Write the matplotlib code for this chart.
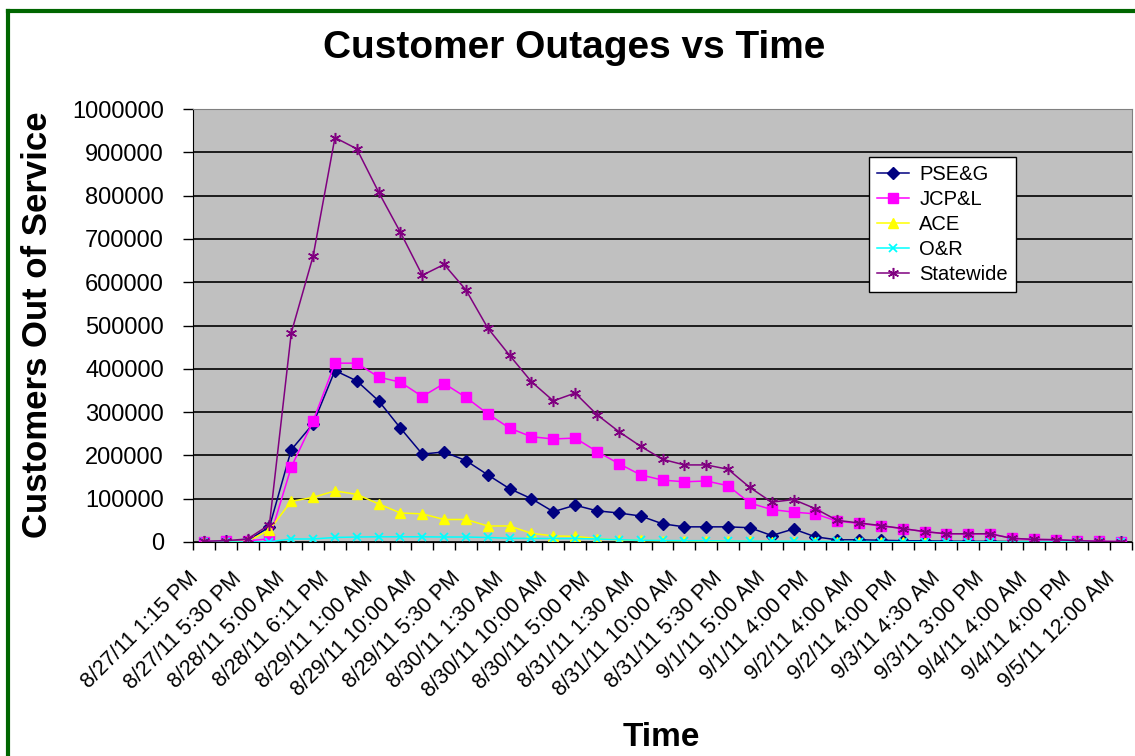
import matplotlib.pyplot as plt
import matplotlib.transforms as mtransforms
from matplotlib.lines import Line2D
from matplotlib.ticker import FuncFormatter
import numpy as np

plt.rcParams['font.family'] = ['Liberation Sans', 'DejaVu Sans']

# tick labels (shown on every other reading)
tick_labels = ["8/27/11 1:15 PM", "8/27/11 5:30 PM", "8/28/11 5:00 AM", "8/28/11 6:11 PM",
               "8/29/11 1:00 AM", "8/29/11 10:00 AM", "8/29/11 5:30 PM", "8/30/11 1:30 AM",
               "8/30/11 10:00 AM", "8/30/11 5:00 PM", "8/31/11 1:30 AM", "8/31/11 10:00 AM",
               "8/31/11 5:30 PM", "9/1/11 5:00 AM", "9/1/11 4:00 PM", "9/2/11 4:00 AM",
               "9/2/11 4:00 PM", "9/3/11 4:30 AM", "9/3/11 3:00 PM", "9/4/11 4:00 AM",
               "9/4/11 4:00 PM", "9/5/11 12:00 AM"]

pseg = [500, 1500, 3000, 35000, 213000, 273000, 396000, 372000, 326000, 263000,
        203000, 208000, 188000, 155000, 123000, 100000, 70000, 85000, 72000, 67000,
        60000, 42000, 35000, 35000, 35000, 33000, 15000, 30000, 12000, 5000,
        5000, 4000, 3000, 2500, 2000, 1500, 1500, 1000, 1000, 800,
        600, 400, 300]
jcpl = [1000, 1500, 2500, 7500, 173000, 279000, 413000, 413000, 381000, 369000,
        336000, 366000, 334000, 296000, 263000, 243000, 238000, 240000, 209000, 181000,
        155000, 143000, 139000, 141000, 130000, 90000, 75000, 69000, 65000, 48000,
        43000, 37000, 31000, 24000, 19000, 19000, 19000, 8500, 6000, 5300,
        3000, 1500, 1000]
ace = [0, 500, 1500, 28000, 94000, 103000, 118000, 110000, 88000, 67000,
       65000, 52000, 52000, 37000, 37000, 20000, 14000, 13000, 8000, 5000,
       3500, 3000, 2500, 2000, 1500, 1200, 1000, 900, 800, 700,
       600, 500, 400, 400, 300, 300, 300, 200, 200, 200,
       200, 200, 200]
onr = [0, 0, 200, 500, 7000, 7000, 10500, 11500, 12000, 12000,
       12000, 11500, 11500, 10500, 8500, 8300, 8000, 8000, 7000, 5300,
       4000, 3500, 3000, 3000, 2500, 2000, 2000, 1800, 1500, 1200,
       1000, 900, 800, 700, 600, 500, 400, 300, 300, 200,
       200, 100, 100]
statewide = [1500, 3000, 7000, 40000, 483000, 660000, 934000, 908000, 808000, 715000,
             616000, 641000, 582000, 494000, 431000, 370000, 326000, 344000, 294000, 255000,
             221000, 191000, 178000, 178000, 168000, 126000, 92000, 98000, 77000, 50000,
             44000, 38000, 31000, 24000, 19000, 19000, 19000, 8500, 6000, 5300,
             3000, 1500, 1000]

W, H = 1135, 756
fig = plt.figure(figsize=(W / 100, H / 100), dpi=100)
fig.patch.set_facecolor('white')
ax = fig.add_axes([193 / W, 1 - 542 / H, 939 / W, 433 / H])
ax.set_facecolor('#C0C0C0')

x = np.arange(len(statewide))
ax.plot(x, pseg, color='#000080', marker='D', ms=6, lw=1.1, label='PSE&G')
ax.plot(x, jcpl, color='#FF00FF', marker='s', ms=7, lw=1.1, label='JCP&L')
ax.plot(x, ace, color='#FFFF00', marker='^', ms=7.5, lw=1.1, label='ACE')
ax.plot(x, onr, color='#00FFFF', marker='x', ms=6, mew=1.3, lw=1.1, label='O&R')
ax.plot(x, statewide, color='#800080', marker=(6, 2, 0), ms=8, mew=1.1, lw=1.1,
        label='Statewide')

ax.set_xlim(-0.5, len(x) - 0.5)
ax.set_ylim(0, 1000000)
ax.set_yticks(np.arange(0, 1000001, 100000))
ax.yaxis.set_major_formatter(FuncFormatter(lambda v, p: '%d' % v))
ax.yaxis.grid(True, color='black', lw=1.2)
ax.set_axisbelow(True)
ax.tick_params(axis='y', direction='out', length=7, width=1, pad=14, labelsize=17)

ax.set_xticks(x[::2])
ax.set_xticklabels(tick_labels, rotation=45, ha='right', va='center',
                   rotation_mode='anchor', fontsize=15.5)
ax.set_xticks(np.arange(-0.5, len(x)), minor=True)
ax.tick_params(axis='x', which='major', length=0, pad=24)
ax.tick_params(axis='x', which='minor', direction='out', length=6, width=1)
offset = mtransforms.ScaledTranslation(-9 / 100, 0, fig.dpi_scale_trans)
for lab in ax.get_xticklabels():
    lab.set_transform(lab.get_transform() + offset)

for side in ['top', 'right']:
    ax.spines[side].set_color('#808080')
for side in ['left', 'bottom']:
    ax.spines[side].set_color('black')

fig.text(574 / W, 1 - 48 / H, 'Customer Outages vs Time', ha='center', va='center',
         fontsize=28, fontweight='bold')
fig.text(38 / W, 1 - 325 / H, 'Customers Out of Service', ha='center', va='center',
         rotation=90, fontsize=25, fontweight='bold')
fig.text(661 / W, 1 - 738 / H, 'Time', ha='center', va='center',
         fontsize=24, fontweight='bold')

leg = ax.legend(loc='upper left', bbox_to_anchor=(869 / W, 1 - 157 / H),
                bbox_transform=fig.transFigure, borderaxespad=0, fontsize=14.5,
                frameon=True, fancybox=False, framealpha=1, edgecolor='black',
                handlelength=1.6, labelspacing=0.3, borderpad=0.4, handletextpad=0.5)
leg.get_frame().set_linewidth(1)

# green outer frame
fig.add_artist(Line2D([8 / W, 8 / W], [0, 1 - 11 / H], color='#006600', lw=3,
                      transform=fig.transFigure))
fig.add_artist(Line2D([8 / W, 1], [1 - 11 / H, 1 - 11 / H], color='#006600', lw=3,
                      transform=fig.transFigure))

fig.savefig('out.png', dpi=100)
